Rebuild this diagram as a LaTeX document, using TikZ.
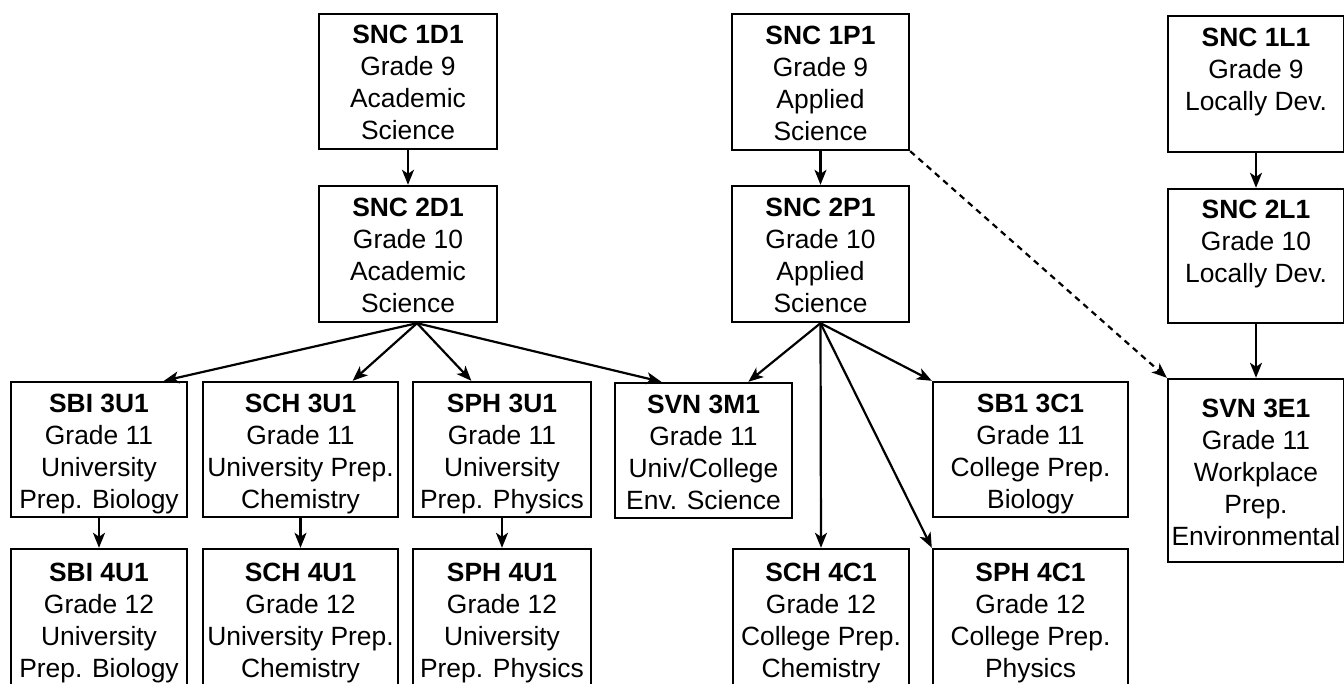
\documentclass[tikz,border=0pt]{standalone}
\usepackage{fontspec}
\setmainfont{Liberation Sans}
\usetikzlibrary{arrows.meta,calc}
\newcommand\ms{\rule[-5.5pt]{0pt}{32pt}}
\begin{document}
\begin{tikzpicture}[x=1pt,y=-1pt,
  box/.style={draw, rectangle, line width=2.4pt, inner sep=0pt, align=center,
    font=\fontsize{26.4}{32}\selectfont},
  arr/.style={line width=2.2pt, -{Stealth[length=15pt,width=12pt,inset=4pt]}},
  darr/.style={arr, dash pattern=on 6pt off 5pt},
]
\useasboundingbox (0,0) rectangle (1344,684);

% row 1 and 2
\node[box, minimum width=178pt, minimum height=135pt] (d1) at (408,81.5)
  {\textbf{SNC 1D1}\ms\\Grade 9\ms\\Academic\ms\\Science\ms};
\node[box, minimum width=178pt, minimum height=136pt] (d2) at (408,254)
  {\textbf{SNC 2D1}\ms\\Grade 10\ms\\Academic\ms\\Science\ms};
\node[box, minimum width=177pt, minimum height=136pt] (p1) at (820.5,82)
  {\textbf{SNC 1P1}\ms\\Grade 9\ms\\Applied\ms\\Science\ms};
\node[box, minimum width=177pt, minimum height=136pt] (p2) at (820.5,254)
  {\textbf{SNC 2P1}\ms\\Grade 10\ms\\Applied\ms\\Science\ms};
\node[box, minimum width=176pt, minimum height=136pt] (l1) at (1256,84)
  {\textbf{SNC 1L1}\ms\\Grade 9\ms\\Locally Dev.\ms\\\ms};
\node[box, minimum width=176pt, minimum height=134pt] (l2) at (1256,256)
  {\textbf{SNC 2L1}\ms\\Grade 10\ms\\Locally Dev.\ms\\\ms};

% row 3
\node[box, minimum width=176pt, minimum height=135pt] (sbi3) at (99,449.5)
  {\textbf{SBI 3U1}\ms\\Grade 11\ms\\University\ms\\Prep. Biology\ms};
\node[box, minimum width=195pt, minimum height=135pt] (sch3) at (300.5,449.5)
  {\textbf{SCH 3U1}\ms\\Grade 11\ms\\University Prep.\ms\\Chemistry\ms};
\node[box, minimum width=178pt, minimum height=135pt] (sph3) at (502,449.5)
  {\textbf{SPH 3U1}\ms\\Grade 11\ms\\University\ms\\Prep. Physics\ms};
\node[box, minimum width=177pt, minimum height=135pt] (svm) at (703.5,450.5)
  {\textbf{SVN 3M1}\ms\\Grade 11\ms\\Univ/College\ms\\Env. Science\ms};
\node[box, minimum width=195pt, minimum height=135pt] (sb1) at (1030.5,449.5)
  {\textbf{SB1 3C1}\ms\\Grade 11\ms\\College Prep.\ms\\Biology\ms};
\node[box, minimum width=176pt, minimum height=183pt] (sve) at (1256,470.5)
  {\textbf{SVN 3E1}\ms\\Grade 11\ms\\Workplace\ms\\Prep.\ms\\Environmental\ms};

% row 4
\node[box, minimum width=176pt, minimum height=140pt] (sbi4) at (99,619)
  {\textbf{SBI 4U1}\ms\\Grade 12\ms\\University\ms\\Prep. Biology\ms};
\node[box, minimum width=195pt, minimum height=140pt] (sch4) at (300.5,619)
  {\textbf{SCH 4U1}\ms\\Grade 12\ms\\University Prep.\ms\\Chemistry\ms};
\node[box, minimum width=178pt, minimum height=140pt] (sph4) at (502,619)
  {\textbf{SPH 4U1}\ms\\Grade 12\ms\\University\ms\\Prep. Physics\ms};
\node[box, minimum width=176pt, minimum height=140pt] (sch4c) at (821,619)
  {\textbf{SCH 4C1}\ms\\Grade 12\ms\\College Prep.\ms\\Chemistry\ms};
\node[box, minimum width=195pt, minimum height=140pt] (sph4c) at (1030.5,619)
  {\textbf{SPH 4C1}\ms\\Grade 12\ms\\College Prep.\ms\\Physics\ms};

% anchor points
\coordinate (d2s) at ($(d2.south west)!0.55!(d2.south east)$);
\coordinate (tsbi) at ($(sbi3.north west)!0.864!(sbi3.north east)$);
\coordinate (tsch) at ($(sch3.north west)!0.764!(sch3.north east)$);
\coordinate (tsph) at ($(sph3.north west)!0.33!(sph3.north east)$);
\coordinate (tsvmA) at ($(svm.north west)!0.265!(svm.north east)$);
\coordinate (tsvmB) at ($(svm.north west)!0.75!(svm.north east)$);

% connectors
\draw[arr] (d1.south) -- (d2.north);
\draw[arr] (p1.south) -- (p2.north);
\draw[arr] (l1.south) -- (l2.north);
\draw[arr] (l2.south) -- (sve.north);
\draw[arr] (d2s) -- (tsbi);
\draw[arr] (d2s) -- (tsch);
\draw[arr] (d2s) -- (tsph);
\draw[arr] (d2s) -- (tsvmA);
\draw[arr] (p2.south) -- (tsvmB);
\draw[arr] (p2.south) -- (sch4c.north);
\draw[arr] (p2.south) -- (sph4c.north west);
\draw[arr] (p2.south) -- (sb1.north west);
\draw[darr] (p1.south east) -- (sve.north west);
\draw[arr] (sbi3.south) -- (sbi4.north);
\draw[arr] (sch3.south) -- (sch4.north);
\draw[arr] (sph3.south) -- (sph4.north);
\end{tikzpicture}
\end{document}
